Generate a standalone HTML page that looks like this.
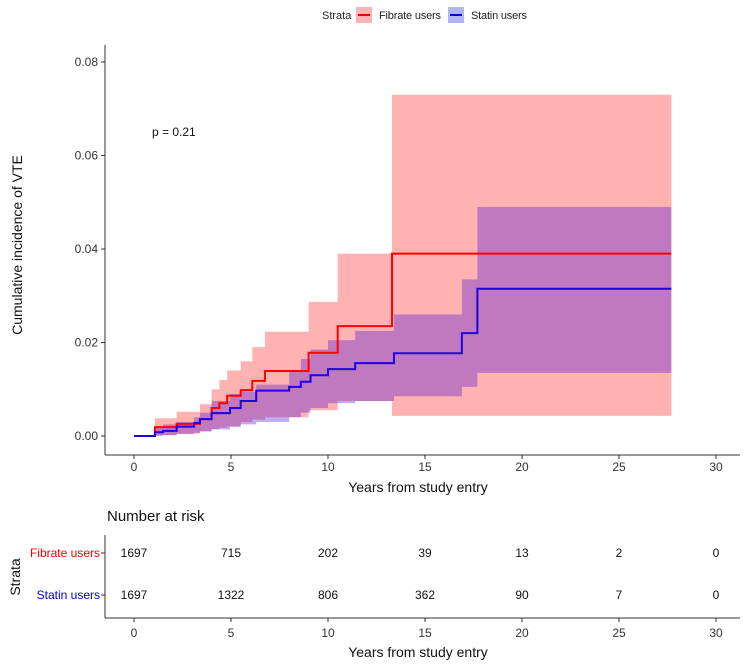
<!DOCTYPE html>
<html><head><meta charset="utf-8"><style>
body{margin:0;background:#fff;font-family:"Liberation Sans",sans-serif}
svg text{font-family:"Liberation Sans",sans-serif}
</style></head><body>
<svg width="750" height="665" viewBox="0 0 750 665" xmlns="http://www.w3.org/2000/svg">
<g>
<text x="322" y="19" font-size="11" fill="#222">Strata</text>
<rect x="356" y="7" width="16" height="16" fill="#ffb3b3"/>
<line x1="358" y1="15" x2="370" y2="15" stroke="#e00" stroke-width="2"/>
<text x="379" y="19" font-size="11" fill="#222" textLength="62">Fibrate users</text>
<rect x="448" y="7" width="16" height="16" fill="#b3b3ff"/>
<line x1="450" y1="15" x2="462" y2="15" stroke="#00c" stroke-width="2"/>
<text x="471" y="19" font-size="11" fill="#222" textLength="56">Statin users</text>
</g>
<g id="plot"></g>
<text x="152" y="136" font-size="12" fill="#111">p = 0.21</text>
<text transform="translate(22,245) rotate(-90)" text-anchor="middle" font-size="14" fill="#111">Cumulative incidence of VTE</text>
<text x="418" y="492" text-anchor="middle" font-size="14" fill="#111">Years from study entry</text>
<text x="107" y="521" font-size="15" fill="#111">Number at risk</text>
<text transform="translate(20,577) rotate(-90)" text-anchor="middle" font-size="14" fill="#111">Strata</text>
<text x="100" y="557" text-anchor="end" font-size="12" fill="#e00">Fibrate users</text>
<text x="100" y="599" text-anchor="end" font-size="12" fill="#00c">Statin users</text>
<g id="risk"></g>
<text x="418" y="657" text-anchor="middle" font-size="14" fill="#111">Years from study entry</text>
</svg>
<script>
const ticksX=[0,5,10,15,20,25,30];
const ticksY=[0,0.02,0.04,0.06,0.08];
const tickLabelsY=["0.00","0.02","0.04","0.06","0.08"];
const fibT=[0,1.08,2.2,3.4,4.0,4.4,4.8,5.5,6.1,6.75,9.0,10.5,13.3];
const fibV=[0,0.0019,0.0026,0.0036,0.006,0.007,0.0086,0.0098,0.0118,0.0139,0.0178,0.0235,0.039];
const fibU=[0,0.0038,0.0052,0.0068,0.010,0.012,0.014,0.016,0.019,0.0223,0.0287,0.039,0.073];
const fibL=[0,0.0002,0.0005,0.001,0.0015,0.0018,0.002,0.003,0.0035,0.004,0.0055,0.0075,0.0043];
const staT=[0,1.08,1.5,2.2,3.1,3.4,4.0,4.95,5.5,6.3,8.0,8.6,9.1,10.0,11.4,13.4,16.9,17.7];
const staV=[0,0.0008,0.0011,0.002,0.0028,0.0036,0.0049,0.006,0.0075,0.0097,0.0105,0.0116,0.013,0.0143,0.0156,0.0177,0.022,0.0315];
const staU=[0,0.002,0.0025,0.003,0.004,0.005,0.0075,0.009,0.0095,0.011,0.014,0.0165,0.0185,0.0205,0.0225,0.026,0.0335,0.049];
const staL=[0,0,0.0002,0.0004,0.0007,0.001,0.0014,0.002,0.0025,0.003,0.004,0.005,0.006,0.007,0.0075,0.0085,0.0105,0.0135];
const endT=27.7;
const riskFib=[1697,715,202,39,13,2,0];
const riskSta=[1697,1322,806,362,90,7,0];
const NS="http://www.w3.org/2000/svg";
const X=t=>134+t*19.4;
const Y=v=>436-v*4675;
function mk(tag,attrs,parent){const e=document.createElementNS(NS,tag);for(const k in attrs)e.setAttribute(k,attrs[k]);parent.appendChild(e);return e;}
const plot=document.getElementById('plot');
function band(T,U,L,fill){
  let up="";
  for(let i=0;i<T.length;i++){const t2=i<T.length-1?T[i+1]:endT;
    up+=`${X(T[i])},${Y(U[i])} ${X(t2)},${Y(U[i])} `;}
  const pts=[];for(let i=T.length-1;i>=0;i--){const t2=i<T.length-1?T[i+1]:endT;pts.push(`${X(t2)},${Y(L[i])} ${X(T[i])},${Y(L[i])}`);}
  return mk('polygon',{points:up+pts.join(' '),fill:fill},plot);
}
function line(T,V,col){
  let d=`M${X(T[0])},${Y(V[0])}`;
  for(let i=0;i<T.length;i++){const t2=i<T.length-1?T[i+1]:endT;d+=` V${Y(V[i])} H${X(t2)}`;}
  return mk('path',{d:d,fill:'none',stroke:col,'stroke-width':2},plot);
}
const b1=band(fibT,fibU,fibL,'rgba(255,0,0,0.3)');


const b2=band(staT,staU,staL,'rgba(60,0,220,0.32)');


const l1=line(fibT,fibV,'#f00');


const l2=line(staT,staV,'#2000e0');


const ya=mk('line',{x1:105,y1:45,x2:105,y2:455,stroke:'#333','stroke-width':1},plot);


const xa=mk('line',{x1:105,y1:455,x2:740,y2:455,stroke:'#333','stroke-width':1},plot);


ticksY.forEach((v,i)=>{mk('line',{x1:101,x2:105,y1:Y(v),y2:Y(v),stroke:'#333'},plot);
  const t=mk('text',{x:98,y:Y(v)+4,'text-anchor':'end','font-size':12,fill:'#333'},plot);t.textContent=tickLabelsY[i];
  
  });
ticksX.forEach(v=>{mk('line',{x1:X(v),x2:X(v),y1:455,y2:459,stroke:'#333'},plot);
  const t=mk('text',{x:X(v),y:471,'text-anchor':'middle','font-size':12,fill:'#333'},plot);t.textContent=v;
  
  });
const risk=document.getElementById('risk');
const rya=mk('line',{x1:105,y1:535,x2:105,y2:618,stroke:'#333'},risk);


const rxa=mk('line',{x1:105,y1:618,x2:740,y2:618,stroke:'#333'},risk);


mk('line',{x1:101,x2:105,y1:553,y2:553,stroke:'#333'},risk);
mk('line',{x1:101,x2:105,y1:595,y2:595,stroke:'#333'},risk);
ticksX.forEach((v,i)=>{
  mk('line',{x1:X(v),x2:X(v),y1:618,y2:622,stroke:'#333'},risk);
  const t=mk('text',{x:X(v),y:637,'text-anchor':'middle','font-size':12,fill:'#333'},risk);t.textContent=v;
  
  
  const a=mk('text',{x:X(v),y:557,'text-anchor':'middle','font-size':12,fill:'#111'},risk);a.textContent=riskFib[i];
  
  
  const b=mk('text',{x:X(v),y:599,'text-anchor':'middle','font-size':12,fill:'#111'},risk);b.textContent=riskSta[i];
  
  
});
</script>
</body></html>
